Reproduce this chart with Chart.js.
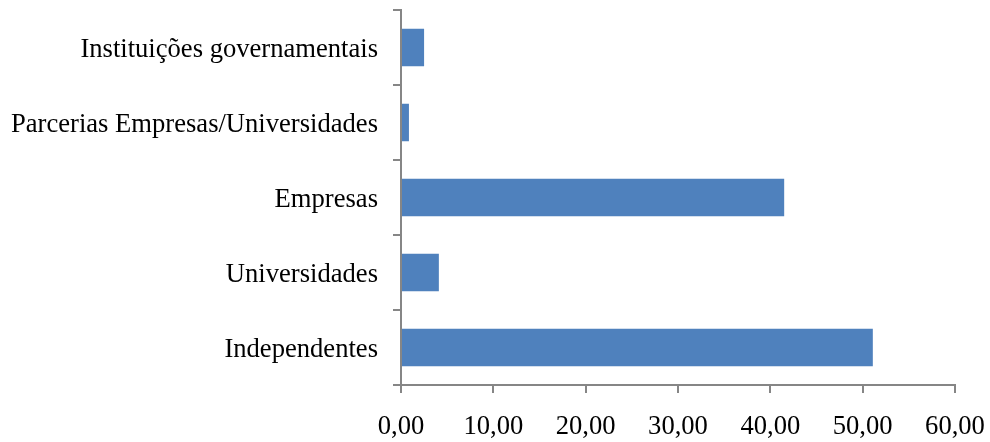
<!DOCTYPE html>
<html>
<head>
<meta charset="utf-8">
<script src="https://cdn.jsdelivr.net/npm/chart.js@4/dist/chart.umd.min.js"></script>
<style>
html,body{margin:0;padding:0;background:#fff;}
#wrap{width:990px;height:442px;position:relative;}
</style>
</head>
<body>
<div id="wrap"><canvas id="c" width="990" height="442"></canvas></div>
<script>
const categories = ["Instituições governamentais", "Parcerias Empresas/Universidades", "Empresas", "Universidades", "Independentes"];
const values = [2.5, 0.86, 41.5, 4.1, 51.1];
const xTicks = [0, 10, 20, 30, 40, 50, 60];

const axisColor = '#868686';
const font = {family: '"Liberation Serif", "Times New Roman", serif', size: 26.6};

new Chart(document.getElementById('c'), {
  type: 'bar',
  data: {
    labels: categories,
    datasets: [{
      data: values,
      backgroundColor: '#4F81BD',
      borderWidth: 0,
      categoryPercentage: 1.0,
      barPercentage: 0.5
    }]
  },
  options: {
    indexAxis: 'y',
    responsive: false,
    animation: false,
    layout: {padding: {left: 0, right: 35, top: 10, bottom: 0}},
    plugins: {legend: {display: false}, tooltip: {enabled: false}},
    scales: {
      x: {
        min: 0, max: 60,
        afterBuildTicks: (s) => { s.ticks = xTicks.map(v => ({value: v})); },
        afterFit: (s) => { s.height = 57; s.paddingLeft = 0; s.paddingRight = 0; },
        grid: {drawOnChartArea: false, color: axisColor, tickLength: 8, lineWidth: 2},
        border: {color: axisColor, width: 2},
        ticks: {
          color: '#000', font: font, padding: 18, maxRotation: 0,
          callback: (v) => Number(v).toFixed(2).replace('.', ',')
        }
      },
      y: {
        afterFit: (s) => { s.width = 401; s.paddingTop = 0; s.paddingBottom = 0; },
        grid: {drawOnChartArea: false, color: axisColor, tickLength: 8, lineWidth: 2, offset: true},
        border: {color: axisColor, width: 2},
        ticks: {color: '#000', font: font, padding: 15, labelOffset: 3}
      }
    }
  }
});
</script>
</body>
</html>
